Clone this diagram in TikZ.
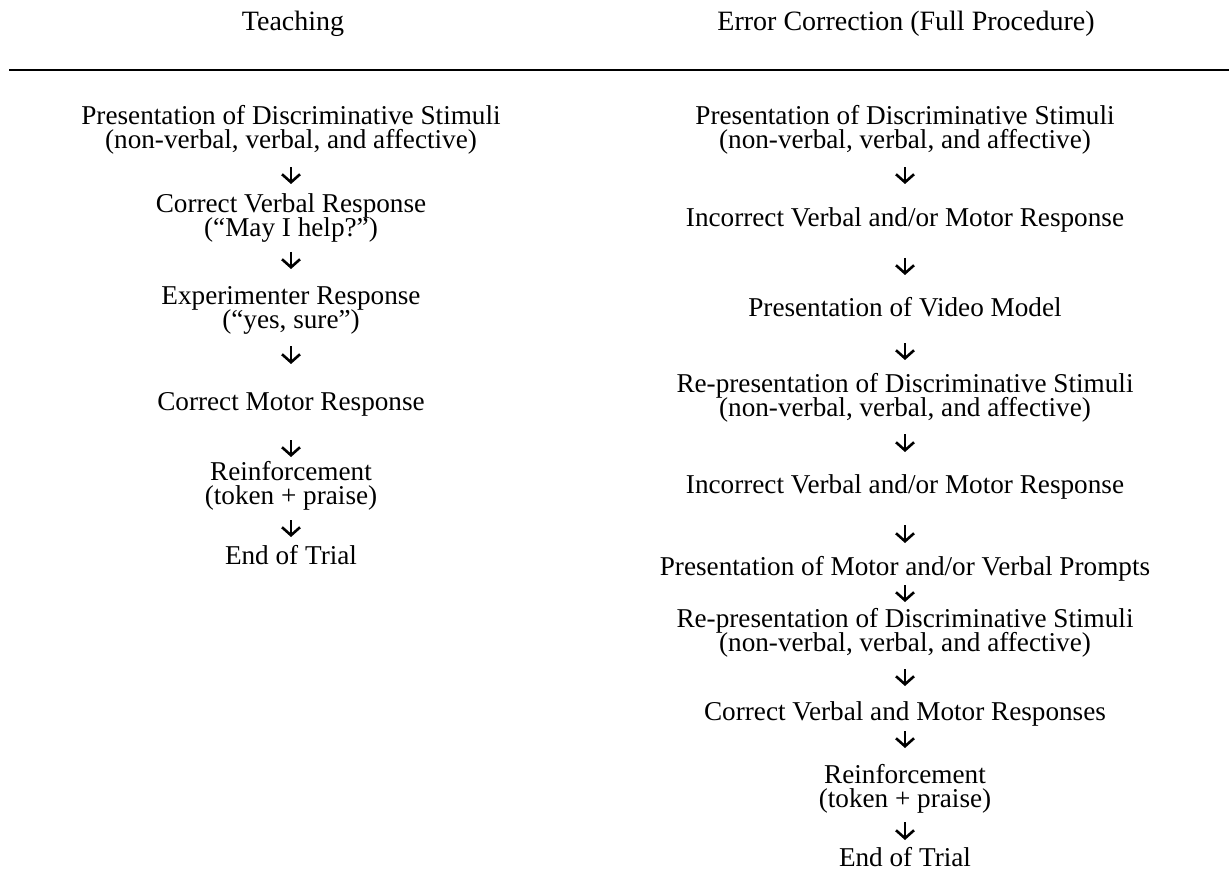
\documentclass[tikz,border=0pt]{standalone}
\usepackage{fontspec}
\setmainfont{Liberation Serif}
\usetikzlibrary{arrows.meta}
\newcommand\lnstrut{\rule[-3.2pt]{0pt}{12.7pt}}
\AtBeginDocument{\lineskiplimit=-30pt\relax}
\begin{document}
\begin{tikzpicture}[x=0.5pt,y=-0.5pt,
  txt/.style={anchor=north, inner sep=0pt, outer sep=0pt, align=center,
    font=\fontsize{13.6}{12}\selectfont,
    execute at begin node=\lnstrut, execute at end node=\lnstrut},
  head/.style={txt, font=\fontsize{14}{12}\selectfont},
  flow/.style 2 args={draw, line width=1.3pt,
    -{Straight Barb[length=4pt,width=9pt]},
    shorten <=#1, shorten >=#2},
  rulestyle/.style={line width=1.2pt}
]
\useasboundingbox (0,0) rectangle (1229,876);

% headings
\node[head] (th) at (293,11) {Teaching};
\node[head] (eh) at (906,11) {Error Correction (Full Procedure)};
\draw[rulestyle] (9,70) -- (1229,70);

% Teaching column
\node[txt] (l1) at (291,105) {Presentation of Discriminative Stimuli\\(non-verbal, verbal, and affective)};
\node[txt] (l2) at (291,194) {Correct Verbal Response\\(“May I help?”)};
\node[txt] (l3) at (291,286) {Experimenter Response\\(“yes, sure”)};
\node[txt] (l4) at (291,391) {Correct Motor Response};
\node[txt] (l5) at (291,461) {Reinforcement\\(token + praise)};
\node[txt] (l6) at (291,545) {End of Trial};

\draw[flow={6.3pt}{5pt}] (l1.south) -- (l2.north);
\draw[flow={4.3pt}{8.5pt}] (l2.south) -- (l3.north);
\draw[flow={5.8pt}{13.5pt}] (l3.south) -- (l4.north);
\draw[flow={11.8pt}{2pt}] (l4.south) -- (l5.north);
\draw[flow={4.8pt}{4pt}] (l5.south) -- (l6.north);

% Error correction column
\node[txt] (r1) at (905,105) {Presentation of Discriminative Stimuli\\(non-verbal, verbal, and affective)};
\node[txt] (r2) at (905,208) {Incorrect Verbal and/or Motor Response};
\node[txt] (r3) at (905,297) {Presentation of Video Model};
\node[txt] (r4) at (905,373) {Re-presentation of Discriminative Stimuli\\(non-verbal, verbal, and affective)};
\node[txt] (r5) at (905,474) {Incorrect Verbal and/or Motor Response};
\node[txt] (r6) at (905,556) {Presentation of Motor and/or Verbal Prompts};
\node[txt] (r7) at (905,608) {Re-presentation of Discriminative Stimuli\\(non-verbal, verbal, and affective)};
\node[txt] (r8) at (905,701) {Correct Verbal and Motor Responses};
\node[txt] (r9) at (905,764) {Reinforcement\\(token + praise)};
\node[txt] (r10) at (905,847) {End of Trial};

\draw[flow={6.3pt}{12pt}] (r1.south) -- (r2.north);
\draw[flow={12.3pt}{11pt}] (r2.south) -- (r3.north);
\draw[flow={10.3pt}{6.5pt}] (r3.south) -- (r4.north);
\draw[flow={5.8pt}{11pt}] (r4.south) -- (r5.north);
\draw[flow={12.8pt}{6.5pt}] (r5.south) -- (r6.north);
\draw[flow={1.8pt}{3pt}] (r6.south) -- (r7.north);
\draw[flow={5.8pt}{7.5pt}] (r7.south) -- (r8.north);
\draw[flow={2.3pt}{8pt}] (r8.south) -- (r9.north);
\draw[flow={4.3pt}{3.5pt}] (r9.south) -- (r10.north);
\end{tikzpicture}
\end{document}
